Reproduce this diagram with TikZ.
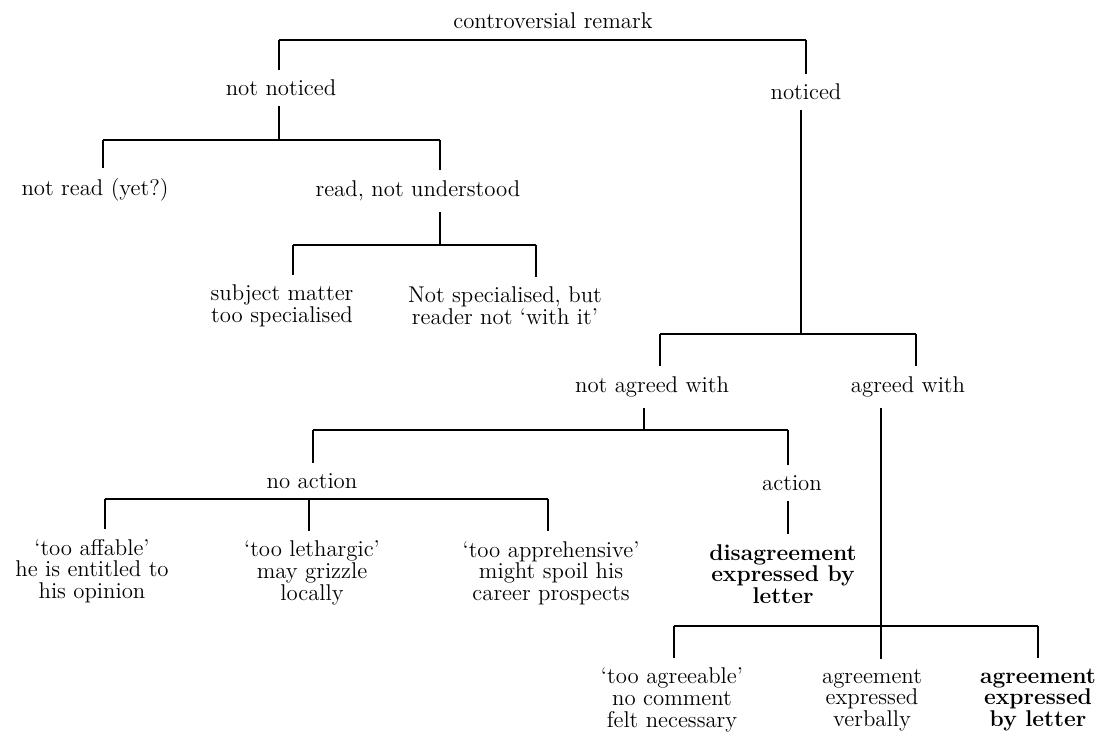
\documentclass[tikz,border=0pt]{standalone}
\usepackage{tikz}

\begin{document}
\begin{tikzpicture}[x=0.5pt,y=-0.5pt,lbl/.style={align=center,inner sep=5pt,font=\fontsize{11.4}{10.8}\selectfont},br/.style={line width=0.9pt}]
\useasboundingbox (0,0) rectangle (1095,732);
% labels
\node[lbl] (root) at (553,21) {controversial remark};
\node[lbl] (notnot) at (281,88) {not noticed};
\node[lbl] (noticed) at (806,92) {noticed};
\node[lbl] (notread) at (95,190) {not read (yet?)};
\node[lbl] (readnot) at (418,191) {read, not understood};
\node[lbl] (subj) at (282,306) {subject matter\\too specialised};
\node[lbl] (notspec) at (505,306) {Not specialised, but\\reader not `with it'};
\node[lbl] (notagr) at (652,387) {not agreed with};
\node[lbl] (agr) at (908,387) {agreed with};
\node[lbl] (noact) at (312,481) {no action};
\node[lbl] (act) at (792,483) {action};
\node[lbl] (affable) at (92,571) {`too affable'\\he is entitled to\\his opinion};
\node[lbl] (lethargic) at (312,573) {`too lethargic'\\may grizzle\\locally};
\node[lbl] (apprehen) at (551,573) {`too apprehensive'\\might spoil his\\career prospects};
\node[lbl,font=\fontsize{11.4}{10.8}\selectfont\bfseries] (disagr) at (783,574) {disagreement\\expressed by\\letter};
\node[lbl] (agreeable) at (672,700) {`too agreeable'\\no comment\\felt necessary};
\node[lbl] (verbal) at (872,700) {agreement\\expressed\\verbally};
\node[lbl,font=\fontsize{11.4}{10.8}\selectfont\bfseries] (byletter) at (1038,700) {agreement\\expressed\\by letter};
% bars
\coordinate (a1) at (279,40); \coordinate (a2) at (806,40);
\coordinate (b1) at (103,140); \coordinate (b0) at (279,140); \coordinate (b2) at (440,140);
\coordinate (c1) at (293,245); \coordinate (c0) at (440,245); \coordinate (c2) at (536,245);
\coordinate (d1) at (660,334); \coordinate (d0) at (801,334); \coordinate (d2) at (916,334);
\coordinate (e1) at (313,430); \coordinate (e0) at (644,430); \coordinate (e2) at (788,430);
\coordinate (f1) at (105,499); \coordinate (f2) at (309,499); \coordinate (f3) at (548,499);
\coordinate (g1) at (674,626); \coordinate (g0) at (881,626); \coordinate (g2) at (1038,626);
\draw[br] (a1)--(a2); \draw[br] (b1)--(b2); \draw[br] (c1)--(c2); \draw[br] (d1)--(d2);
\draw[br] (e1)--(e2); \draw[br] (f1)--(f3); \draw[br] (g1)--(g2);
% stems
\draw[br] (a1)--(notnot.north-|a1); \draw[br] (a2)--(noticed.north-|a2);
\draw[br] (notnot.south-|b0)--(b0);
\draw[br] (b1)--(notread.north-|b1); \draw[br] (b2)--(readnot.north-|b2);
\draw[br] (readnot.south-|c0)--(c0);
\draw[br] (c1)--(subj.north-|c1); \draw[br] (c2)--(notspec.north-|c2);
\draw[br] (noticed.south-|d0)--(d0);
\draw[br] (d1)--(notagr.north-|d1); \draw[br] (d2)--(agr.north-|d2);
\draw[br] (notagr.south-|e0)--(e0);
\draw[br] (e1)--(noact.north-|e1); \draw[br] (e2)--(act.north-|e2);
\draw[br] (f1)--(affable.north-|f1); \draw[br] (f2)--(lethargic.north-|f2); \draw[br] (f3)--(apprehen.north-|f3);
\draw[br] (act.south-|e2)--(disagr.north-|e2);
\draw[br] (agr.south-|g0)--(g0);
\draw[br] (g1)--(agreeable.north-|g1); \draw[br] (g0)--(verbal.north-|g0); \draw[br] (g2)--(byletter.north-|g2);
\end{tikzpicture}
\end{document}
